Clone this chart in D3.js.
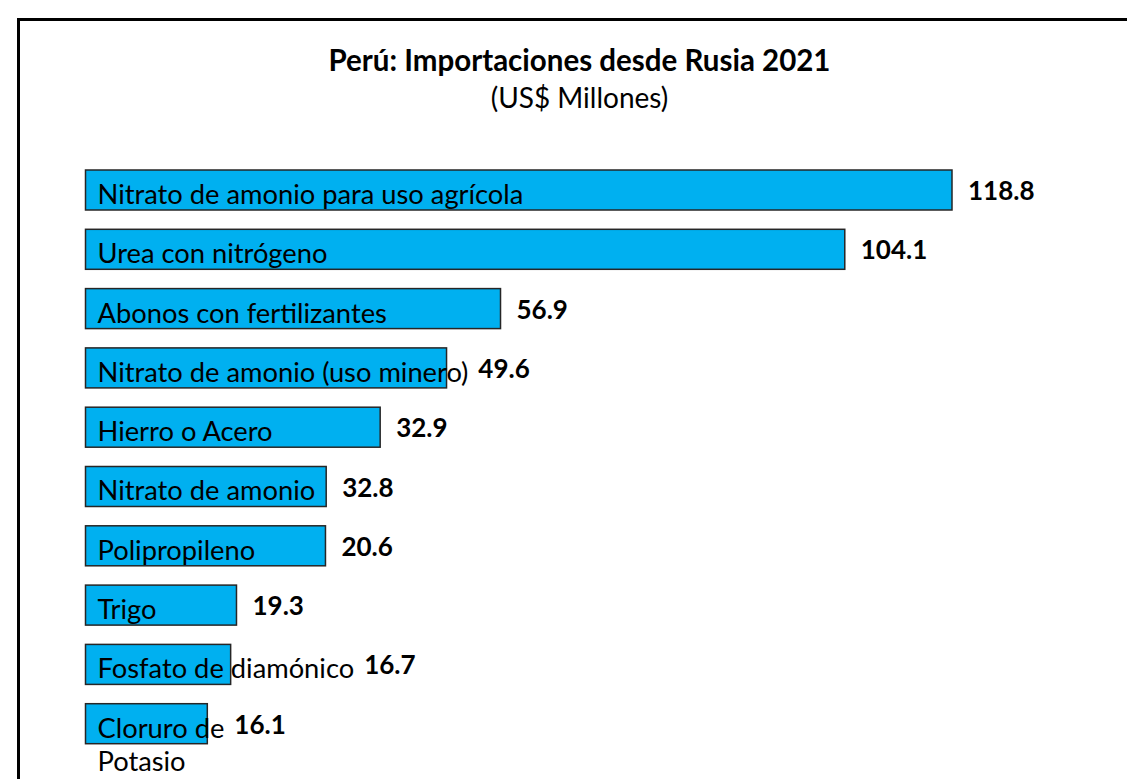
<!DOCTYPE html>
<html lang="es">
<head>
    <meta charset="UTF-8">
    <title>Perú: Importaciones desde Rusia 2021</title>
    <style>
        body {
            margin: 0;
            padding: 0;
            background-color: #ffffff;
            overflow: hidden;
        }
        svg {
            display: block;
            font-family: Lato, "Open Sans", sans-serif;
        }
    </style>
    <script src="https://d3js.org/d3.v7.min.js"></script>
</head>
<body>
    <script>
        // datos
        const categories = [
            "Nitrato de amonio para uso agrícola",
            "Urea con nitrógeno",
            "Abonos con fertilizantes",
            "Nitrato de amonio (uso minero)",
            "Hierro o Acero",
            "Nitrato de amonio",
            "Polipropileno",
            "Trigo",
            "Fosfato de diamónico",
            "Cloruro de\nPotasio"
        ];
        // valores rotulados (US$ millones)
        const values = [118.8, 104.1, 56.9, 49.6, 32.9, 32.8, 20.6, 19.3, 16.7, 16.1];
        // largo de las barras tal como aparecen dibujadas
        const barLengths = [118.8, 104.1, 56.9, 49.5, 40.4, 33.0, 32.9, 20.7, 19.9, 16.7];

        const width = 1127;
        const height = 779;

        const svg = d3.select("body").append("svg")
            .attr("width", width)
            .attr("height", height);

        // marco
        svg.append("rect")
            .attr("x", 18.5)
            .attr("y", 19.5)
            .attr("width", 1300)
            .attr("height", 1000)
            .attr("fill", "none")
            .attr("stroke", "#000")
            .attr("stroke-width", 3);

        // títulos
        svg.append("text")
            .attr("x", 579.5)
            .attr("y", 71)
            .attr("text-anchor", "middle")
            .attr("font-weight", "bold")
            .attr("font-size", 29.5)
            .text("Perú: Importaciones desde Rusia 2021");

        svg.append("text")
            .attr("x", 579.5)
            .attr("y", 108)
            .attr("text-anchor", "middle")
            .attr("font-size", 28)
            .text("(US$ Millones)");

        // escalas
        const x = d3.scaleLinear()
            .domain([0, d3.max(barLengths)])
            .range([85.5, 952]);

        const y = d3.scaleBand()
            .domain(categories)
            .range([170, 743.7])
            .paddingInner(0.3255)
            .paddingOuter(0);

        const rows = svg.selectAll("g.row")
            .data(categories.map((c, i) => ({ name: c, value: values[i], len: barLengths[i] })))
            .enter().append("g")
            .attr("class", "row");

        rows.append("rect")
            .attr("x", x(0))
            .attr("y", d => y(d.name))
            .attr("width", d => x(d.len) - x(0))
            .attr("height", y.bandwidth())
            .attr("fill", "#00B0F0")
            .attr("stroke", "#262626")
            .attr("stroke-width", 1.5);

        // nombres de producto
        const names = rows.append("text")
            .attr("font-size", 27.3)
            .attr("fill", "#000");

        names.selectAll("tspan")
            .data(d => d.name.split("\n").map(t => ({ t: t, d: d })))
            .enter().append("tspan")
            .attr("x", x(0) + 12)
            .attr("y", (s, i) => y(s.d.name) + y.bandwidth() - 6 + i * 33)
            .text(s => s.t);

        // valores
        rows.append("text")
            .attr("font-size", 26)
            .attr("font-weight", "bold")
            .attr("x", function(d) {
                const first = d3.select(this.parentNode).select("tspan").node();
                const textEnd = x(0) + 12 + first.getComputedTextLength();
                return Math.max(x(d.len) + 16, textEnd + 10);
            })
            .attr("y", d => y(d.name) + y.bandwidth() / 2 + 10)
            .text(d => d.value.toFixed(1));
    </script>
</body>
</html>
